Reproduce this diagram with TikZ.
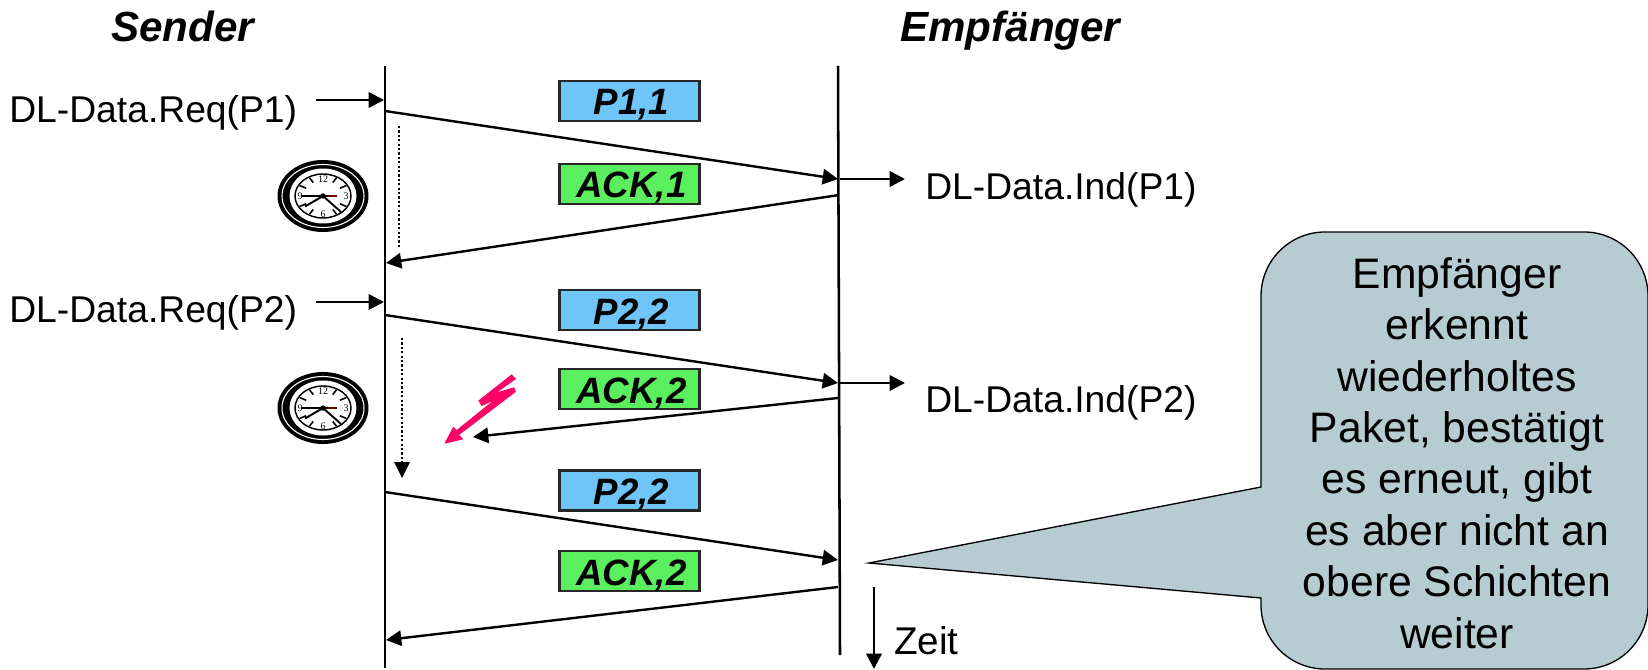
\documentclass[tikz,border=0pt]{standalone}
\usepackage{fontspec}
\setmainfont{Liberation Sans}
\newfontfamily\clockfont{Liberation Serif}
\usetikzlibrary{arrows.meta}
\definecolor{pktblue}{HTML}{70C5F8}
\definecolor{pktgreen}{HTML}{5BEE5F}
\definecolor{callfill}{HTML}{B7CBD2}
\definecolor{boltpink}{HTML}{FF0066}
\tikzset{
  lifeline/.style={line width=1.9pt,black},
  msg/.style={line width=1.8pt,black,-{Triangle[length=11.5pt,width=11.5pt]}},
  timer/.style={line width=2pt,black,dash pattern=on 1.7pt off 1.6pt},
  pkt/.style={draw=black!85,line width=1.8pt,minimum width=105pt,minimum height=30pt,inner sep=0pt,text height=25pt,text depth=4pt,font=\fontsize{27.5pt}{30pt}\selectfont\bfseries\itshape},
  pblue/.style={pkt,fill=pktblue},
  pgreen/.style={pkt,fill=pktgreen},
  lbl/.style={font=\fontsize{27.95pt}{32pt}\selectfont,inner sep=0pt,anchor=base west},
  headline/.style={font=\fontsize{31.6pt}{36pt}\selectfont\bfseries\itshape,inner sep=0pt,anchor=base west},
  clockpic/.pic={
    \fill[black] (0,0) ellipse [x radius=45.5,y radius=36];
    \draw[white,line width=0.8pt] (0,0) ellipse [x radius=41,y radius=31.5];
    \fill[white] (0,0) ellipse [x radius=33.5,y radius=27.5];
    \draw[black,line width=1.1pt] (0,0) ellipse [x radius=28,y radius=22];
    \foreach \a in {30,60,120,150,210,240,300,330}
      \draw[black,line width=1.2pt] ({19.5*cos(\a)},{15.5*sin(\a)}) -- ({27*cos(\a)},{21*sin(\a)});
    \node[inner sep=0pt,font=\clockfont\fontsize{7.5pt}{7.5pt}\selectfont] (-n12) at (0,-17) {12};
    \node[inner sep=0pt,font=\clockfont\fontsize{7.5pt}{7.5pt}\selectfont] (-n3) at (23,0) {3};
    \node[inner sep=0pt,font=\clockfont\fontsize{7.5pt}{7.5pt}\selectfont] (-n6) at (0,18) {6};
    \node[inner sep=0pt,font=\clockfont\fontsize{7.5pt}{7.5pt}\selectfont] (-n9) at (-23,0) {9};
    \draw[black,line width=0.9pt] (-21,0) -- (0,0);
    \draw[black,line width=1.4pt] (0,0) -- (18,16);
    \draw[black,line width=1.5pt] (0,0) -- (-18,10.5);
    \draw[black,line width=1.2pt] (0,0) -- (5,0);
    \draw[black!40!red!70!black,line width=1.3pt] (5,0) -- (14,0);
    \fill[black] (0,0) ellipse [x radius=2.8,y radius=2.6];
  }
}
\begin{document}
\begin{tikzpicture}[x=0.75pt,y=-0.75pt]
\useasboundingbox (0,0) rectangle (1648,670);
% coordinates
\coordinate (stop) at (385,66);
\coordinate (sbot) at (385,668);
\coordinate (rtop) at (838,66);
\coordinate (rbot) at (840,655);
\coordinate (req1) at (316,100);
\coordinate (req1e) at (384,100);
\coordinate (req2) at (316,302);
\coordinate (req2e) at (384,302);
\coordinate (p1s) at (385,111);
\coordinate (p1e) at (838,179);
\coordinate (a1s) at (839,195);
\coordinate (a1e) at (386,263);
\coordinate (ind1s) at (840,179);
\coordinate (ind1e) at (905,179);
\coordinate (ind2s) at (840,383);
\coordinate (ind2e) at (905,383);
\coordinate (p2s) at (385,315);
\coordinate (p2e) at (838,383);
\coordinate (a2s) at (838,398);
\coordinate (a2e) at (473,437);
\coordinate (p3s) at (385,492);
\coordinate (p3e) at (838,560);
\coordinate (a3s) at (838,587);
\coordinate (a3e) at (386,640);
\coordinate (t1s) at (399,126);
\coordinate (t1e) at (399,247);
\coordinate (t2s) at (402,338);
\coordinate (t2e) at (402,465);
\coordinate (zs) at (874,587);
\coordinate (ze) at (874,669);
% callout
\path[fill=callfill,draw=black,line width=1pt]
  (1261,487) [rounded corners=48pt] -- (1261,232) -- (1648,232) -- (1648,669) -- (1261,669) [sharp corners] -- (1261,598) -- (869,563) -- cycle;
\node[inner sep=0pt,align=center,font=\fontsize{32pt}{38.6pt}\selectfont] (calltext) at (1457,453)
  {Empfänger\\erkennt\\wiederholtes\\Paket, bestätigt\\es erneut, gibt\\es aber nicht an\\obere Schichten\\weiter};
% lifelines
\draw[lifeline] (stop) -- (sbot);
\draw[lifeline] (rtop) -- (rbot);
% messages
\draw[msg] (req1) -- (req1e);
\draw[msg] (req2) -- (req2e);
\draw[msg] (p1s) -- (p1e);
\draw[msg] (a1s) -- (a1e);
\draw[msg] (ind1s) -- (ind1e);
\draw[msg] (p2s) -- (p2e);
\draw[msg] (a2s) -- (a2e);
\draw[msg] (ind2s) -- (ind2e);
\draw[msg] (p3s) -- (p3e);
\draw[msg] (a3s) -- (a3e);
\draw[msg] (zs) -- (ze);
% timers
\draw[timer] (t1s) -- (t1e);
\draw[timer] (t2s) -- (t2e);
\fill[black] (402,478) -- (394,462) -- (410,462) -- cycle;
% bolt
\fill[boltpink] (511.7,374.3) -- (516,379) -- (497.3,392.3) -- (514,387.3) -- (516,391.7) -- (459,435) -- (463.3,439.3) -- (444.3,443.7) -- (453.3,426.7) -- (456.7,430) -- (492.7,401) -- (481.7,406) -- (478.3,400.7) -- cycle;
% boxes
\node[pblue] (b1) at (629.5,101) {\hspace{3pt}P1,1};
\node[pgreen] (b2) at (629.5,184) {\hspace{3pt}ACK,1};
\node[pblue] (b3) at (629.5,310) {\hspace{3pt}P2,2};
\node[pgreen] (b4) at (629.5,389) {\hspace{3pt}ACK,2};
\node[pblue] (b5) at (629.5,490.5) {\hspace{3pt}P2,2};
\node[pgreen] (b6) at (629.5,571) {\hspace{3pt}ACK,2};
% text
\node[headline] (snd) at (111,42) {Sender};
\node[headline] (emp) at (900,42) {Empfänger};
\node[lbl] (l1) at (9,123) {DL-Data.Req(P1)};
\node[lbl] (l2) at (9,322) {DL-Data.Req(P2)};
\node[lbl] (l3) at (925,200) {DL-Data.Ind(P1)};
\node[lbl] (l4) at (925,412) {DL-Data.Ind(P2)};
\node[lbl,font=\fontsize{29pt}{32pt}\selectfont] (zt) at (894,654) {Zeit};
% clocks
\pic (c1) at (323,196) {clockpic};
\pic (c2) at (323,408) {clockpic};
\end{tikzpicture}
\end{document}
